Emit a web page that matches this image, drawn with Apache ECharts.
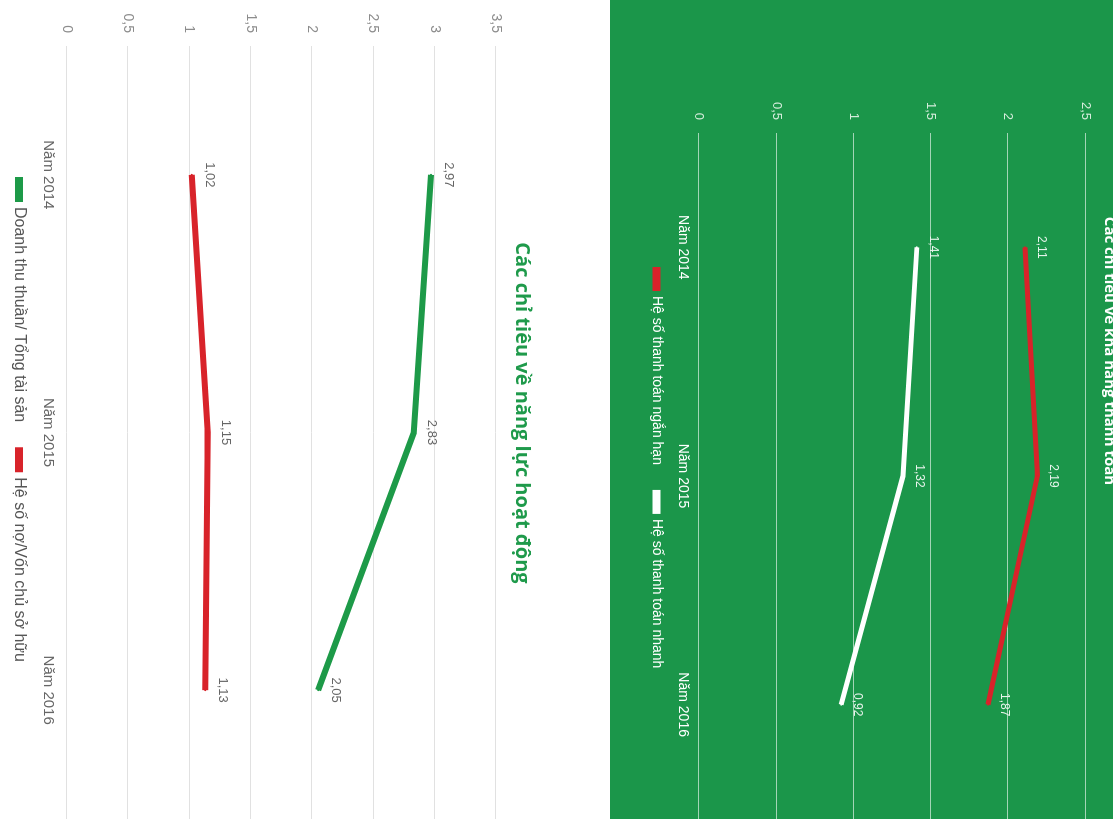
<!DOCTYPE html>
<html>
<head>
<meta charset="utf-8">
<script src="https://cdn.jsdelivr.net/npm/echarts@6/dist/echarts.min.js"></script>
<style>
  html, body { margin: 0; padding: 0; width: 1113px; height: 819px; overflow: hidden; background: #fff; }
  /* The infographic is laid out portrait and turned a quarter turn clockwise */
  #chart {
    position: absolute; left: 0; top: 0;
    width: 819px; height: 1113px;
    transform-origin: 0 0;
    transform: translate(1113px, 0) rotate(90deg);
  }
</style>
</head>
<body>
<div id="chart"></div>
<script>
// ---- data ----
const years = ['Năm 2014', 'Năm 2015', 'Năm 2016'];

// Liquidity ratios (green panel)
const liquidityTitle = 'Các chỉ tiêu về khả năng thanh toán';
const currentRatioName = 'Hệ số thanh toán ngắn hạn';
const currentRatio = [2.11, 2.19, 1.87];
const quickRatioName = 'Hệ số thanh toán nhanh';
const quickRatio = [1.41, 1.32, 0.92];
const liquidityAxis = [0, 2.5, 0.5];   // min, max, step

// Activity ratios (white panel)
const activityTitle = 'Các chỉ tiêu về năng lực hoạt động';
const assetTurnoverName = 'Doanh thu thuần/ Tổng tài sản';
const assetTurnover = [2.97, 2.83, 2.05];
const debtEquityName = 'Hệ số nợ/Vốn chủ sở hữu';
const debtEquity = [1.02, 1.15, 1.13];
const activityAxis = [0, 3.5, 0.5];    // min, max, step

// ---- styles ----
const FONT = '"Liberation Sans", Arial, sans-serif';
const TITLE_FONT = '"Open Sans", "Noto Sans", sans-serif';
const PANEL_GREEN = '#1b964a';
const LINE_GREEN = '#1d9a48';
const LINE_RED = '#d8232a';

const comma = v => String(v).replace('.', ',');

const chart = echarts.init(document.getElementById('chart'), null, { renderer: 'canvas' });

function lineSeries(name, data, color, width, axisIndex, labelColor, labelSize, labelDist) {
  return {
    name, type: 'line', data,
    xAxisIndex: axisIndex, yAxisIndex: axisIndex,
    symbol: 'circle', symbolSize: 2, showSymbol: true,
    lineStyle: { color, width },
    itemStyle: { color },
    label: {
      show: true, position: 'top', distance: labelDist,
      color: labelColor, fontSize: labelSize, fontFamily: FONT,
      formatter: p => comma(p.value)
    },
    z: 3
  };
}

const option = {
  animation: false,
  graphic: [
    { type: 'rect', z: -10, silent: true,
      shape: { x: 0, y: 0, width: 819, height: 503 },
      style: { fill: PANEL_GREEN } },
    { type: 'text', z: 10, silent: true,
      style: { text: liquidityTitle, x: 351, y: 11, align: 'center', verticalAlign: 'bottom',
               fill: '#ffffff', fontSize: 15, fontWeight: 'bold', fontFamily: TITLE_FONT } },
    { type: 'text', z: 10, silent: true,
      style: { text: activityTitle, x: 413, y: 591, align: 'center', verticalAlign: 'middle',
               fill: '#1f9a4b', fontSize: 20, fontWeight: 'bold', fontFamily: TITLE_FONT } }
  ],
  grid: [
    { left: 133, top: 27.7, width: 696, height: 386.3 },
    { left: 46, top: 617, width: 774, height: 429.3 }
  ],
  xAxis: [
    { gridIndex: 0, type: 'category', data: years, boundaryGap: true,
      axisLine: { show: false }, axisTick: { show: false },
      axisLabel: { color: '#ffffff', fontSize: 14, fontFamily: FONT, margin: 9 } },
    { gridIndex: 1, type: 'category', data: years, boundaryGap: true,
      axisLine: { show: false }, axisTick: { show: false },
      axisLabel: { color: '#666666', fontSize: 15, fontFamily: FONT, margin: 11 } }
  ],
  yAxis: [
    { gridIndex: 0, type: 'value',
      min: liquidityAxis[0], max: liquidityAxis[1], interval: liquidityAxis[2],
      axisLine: { show: false }, axisTick: { show: false },
      axisLabel: { color: '#d6eddc', fontSize: 13, fontFamily: FONT, margin: 13, formatter: comma },
      splitLine: { lineStyle: { color: 'rgba(255,255,255,0.6)', width: 1 } } },
    { gridIndex: 1, type: 'value',
      min: activityAxis[0], max: activityAxis[1], interval: activityAxis[2],
      axisLine: { show: false }, axisTick: { show: false },
      axisLabel: { color: '#8c8c8c', fontSize: 14, fontFamily: FONT, margin: 13, formatter: comma },
      splitLine: { lineStyle: { color: '#e1e1e1', width: 1 } } }
  ],
  legend: [
    { data: [currentRatioName, quickRatioName], left: 267, top: 449.5, padding: 0,
      itemWidth: 24, itemHeight: 8, itemGap: 25, icon: 'rect', selectedMode: false,
      textStyle: { color: '#ffffff', fontSize: 14, fontFamily: FONT } },
    { data: [assetTurnoverName, debtEquityName], left: 177, top: 1086, padding: 0,
      itemWidth: 25, itemHeight: 8, itemGap: 25, icon: 'rect', selectedMode: false,
      textStyle: { color: '#555555', fontSize: 16, fontFamily: FONT } }
  ],
  series: [
    lineSeries(currentRatioName, currentRatio, LINE_RED, 5, 0, '#e8f4ec', 12, 9),
    lineSeries(quickRatioName, quickRatio, '#ffffff', 5, 0, '#e8f4ec', 12, 9),
    lineSeries(assetTurnoverName, assetTurnover, LINE_GREEN, 6, 1, '#666666', 13, 10),
    lineSeries(debtEquityName, debtEquity, LINE_RED, 6, 1, '#666666', 13, 10)
  ]
};

chart.setOption(option);
</script>
</body>
</html>
